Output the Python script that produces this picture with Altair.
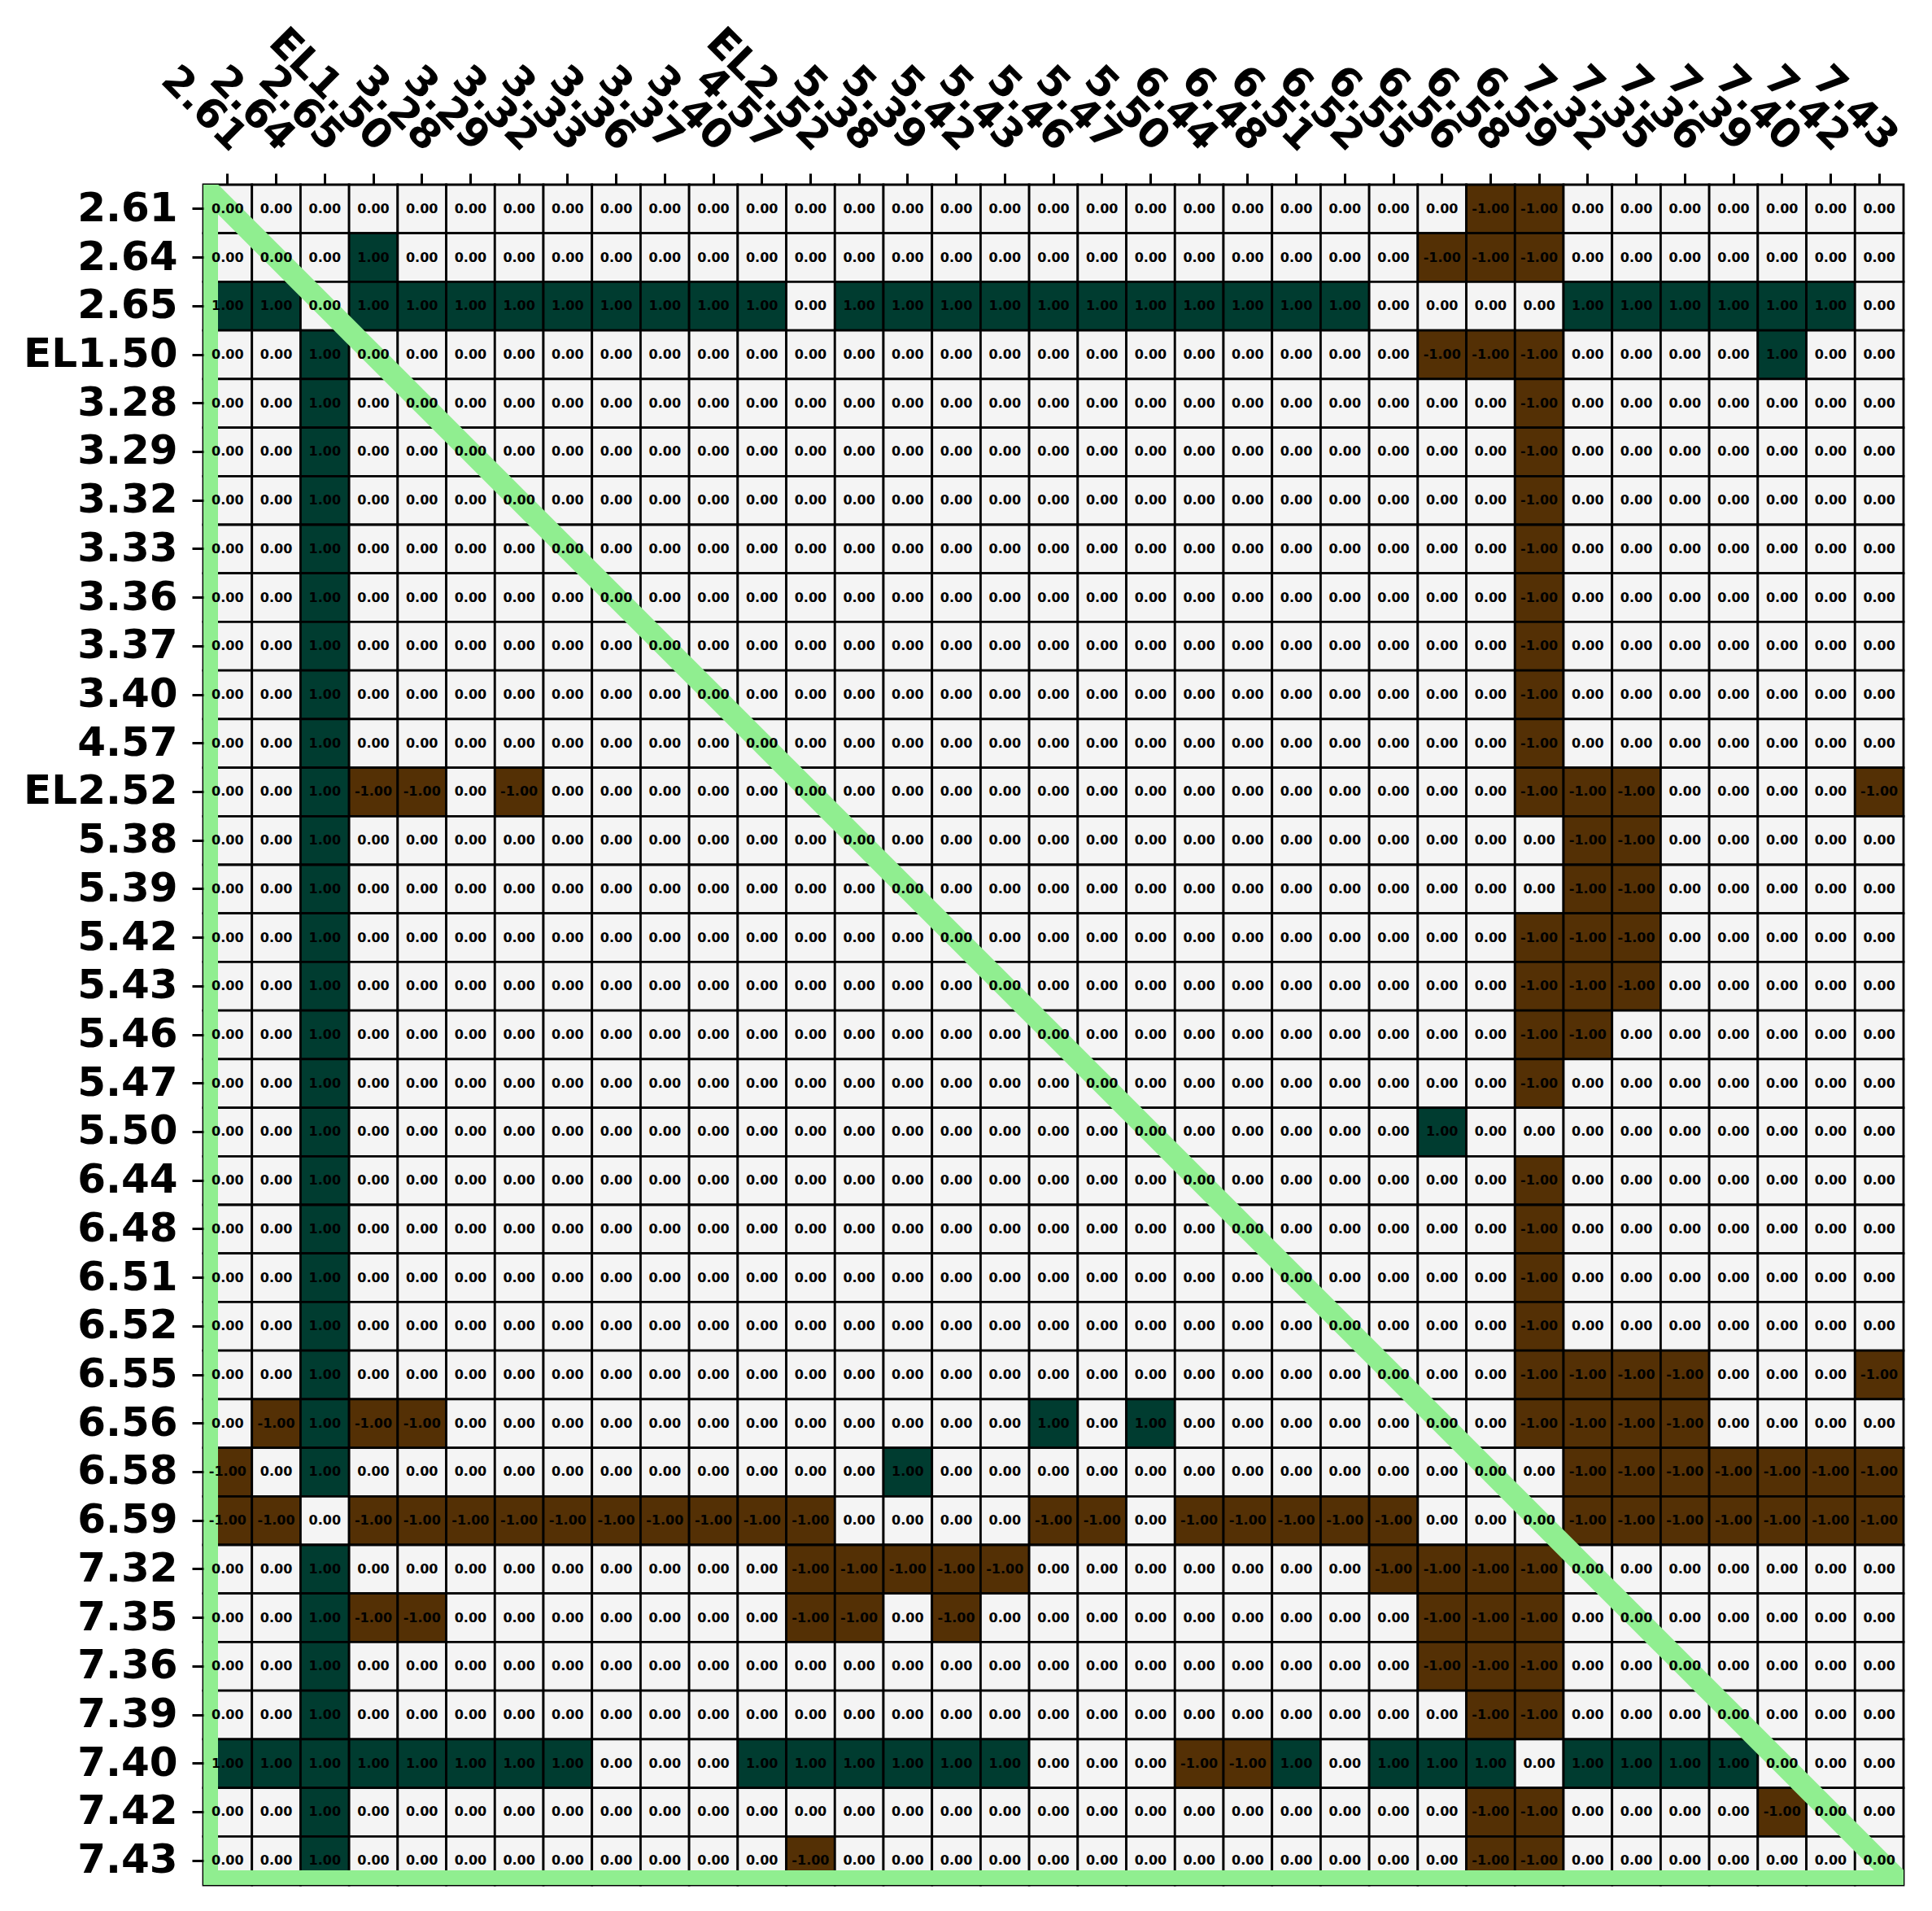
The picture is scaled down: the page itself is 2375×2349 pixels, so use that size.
import altair as alt
import pandas as pd

labels = ["2.61", "2.64", "2.65", "EL1.50", "3.28", "3.29", "3.32", "3.33", "3.36",
          "3.37", "3.40", "4.57", "EL2.52", "5.38", "5.39", "5.42", "5.43", "5.46",
          "5.47", "5.50", "6.44", "6.48", "6.51", "6.52", "6.55", "6.56", "6.58",
          "6.59", "7.32", "7.35", "7.36", "7.39", "7.40", "7.42", "7.43"]

# one list per row (row label order), 35 values each
values = [
    [0, 0, 0, 0, 0,  0, 0, 0, 0, 0,  0, 0, 0, 0, 0,  0, 0, 0, 0, 0,  0, 0, 0, 0, 0,  0, -1, -1, 0, 0,  0, 0, 0, 0, 0],  # 2.61
    [0, 0, 0, 1, 0,  0, 0, 0, 0, 0,  0, 0, 0, 0, 0,  0, 0, 0, 0, 0,  0, 0, 0, 0, 0,  -1, -1, -1, 0, 0,  0, 0, 0, 0, 0],  # 2.64
    [1, 1, 0, 1, 1,  1, 1, 1, 1, 1,  1, 1, 0, 1, 1,  1, 1, 1, 1, 1,  1, 1, 1, 1, 0,  0, 0, 0, 1, 1,  1, 1, 1, 1, 0],  # 2.65
    [0, 0, 1, 0, 0,  0, 0, 0, 0, 0,  0, 0, 0, 0, 0,  0, 0, 0, 0, 0,  0, 0, 0, 0, 0,  -1, -1, -1, 0, 0,  0, 0, 1, 0, 0],  # EL1.50
    [0, 0, 1, 0, 0,  0, 0, 0, 0, 0,  0, 0, 0, 0, 0,  0, 0, 0, 0, 0,  0, 0, 0, 0, 0,  0, 0, -1, 0, 0,  0, 0, 0, 0, 0],  # 3.28
    [0, 0, 1, 0, 0,  0, 0, 0, 0, 0,  0, 0, 0, 0, 0,  0, 0, 0, 0, 0,  0, 0, 0, 0, 0,  0, 0, -1, 0, 0,  0, 0, 0, 0, 0],  # 3.29
    [0, 0, 1, 0, 0,  0, 0, 0, 0, 0,  0, 0, 0, 0, 0,  0, 0, 0, 0, 0,  0, 0, 0, 0, 0,  0, 0, -1, 0, 0,  0, 0, 0, 0, 0],  # 3.32
    [0, 0, 1, 0, 0,  0, 0, 0, 0, 0,  0, 0, 0, 0, 0,  0, 0, 0, 0, 0,  0, 0, 0, 0, 0,  0, 0, -1, 0, 0,  0, 0, 0, 0, 0],  # 3.33
    [0, 0, 1, 0, 0,  0, 0, 0, 0, 0,  0, 0, 0, 0, 0,  0, 0, 0, 0, 0,  0, 0, 0, 0, 0,  0, 0, -1, 0, 0,  0, 0, 0, 0, 0],  # 3.36
    [0, 0, 1, 0, 0,  0, 0, 0, 0, 0,  0, 0, 0, 0, 0,  0, 0, 0, 0, 0,  0, 0, 0, 0, 0,  0, 0, -1, 0, 0,  0, 0, 0, 0, 0],  # 3.37
    [0, 0, 1, 0, 0,  0, 0, 0, 0, 0,  0, 0, 0, 0, 0,  0, 0, 0, 0, 0,  0, 0, 0, 0, 0,  0, 0, -1, 0, 0,  0, 0, 0, 0, 0],  # 3.40
    [0, 0, 1, 0, 0,  0, 0, 0, 0, 0,  0, 0, 0, 0, 0,  0, 0, 0, 0, 0,  0, 0, 0, 0, 0,  0, 0, -1, 0, 0,  0, 0, 0, 0, 0],  # 4.57
    [0, 0, 1, -1, -1,  0, -1, 0, 0, 0,  0, 0, 0, 0, 0,  0, 0, 0, 0, 0,  0, 0, 0, 0, 0,  0, 0, -1, -1, -1,  0, 0, 0, 0, -1],  # EL2.52
    [0, 0, 1, 0, 0,  0, 0, 0, 0, 0,  0, 0, 0, 0, 0,  0, 0, 0, 0, 0,  0, 0, 0, 0, 0,  0, 0, 0, -1, -1,  0, 0, 0, 0, 0],  # 5.38
    [0, 0, 1, 0, 0,  0, 0, 0, 0, 0,  0, 0, 0, 0, 0,  0, 0, 0, 0, 0,  0, 0, 0, 0, 0,  0, 0, 0, -1, -1,  0, 0, 0, 0, 0],  # 5.39
    [0, 0, 1, 0, 0,  0, 0, 0, 0, 0,  0, 0, 0, 0, 0,  0, 0, 0, 0, 0,  0, 0, 0, 0, 0,  0, 0, -1, -1, -1,  0, 0, 0, 0, 0],  # 5.42
    [0, 0, 1, 0, 0,  0, 0, 0, 0, 0,  0, 0, 0, 0, 0,  0, 0, 0, 0, 0,  0, 0, 0, 0, 0,  0, 0, -1, -1, -1,  0, 0, 0, 0, 0],  # 5.43
    [0, 0, 1, 0, 0,  0, 0, 0, 0, 0,  0, 0, 0, 0, 0,  0, 0, 0, 0, 0,  0, 0, 0, 0, 0,  0, 0, -1, -1, 0,  0, 0, 0, 0, 0],  # 5.46
    [0, 0, 1, 0, 0,  0, 0, 0, 0, 0,  0, 0, 0, 0, 0,  0, 0, 0, 0, 0,  0, 0, 0, 0, 0,  0, 0, -1, 0, 0,  0, 0, 0, 0, 0],  # 5.47
    [0, 0, 1, 0, 0,  0, 0, 0, 0, 0,  0, 0, 0, 0, 0,  0, 0, 0, 0, 0,  0, 0, 0, 0, 0,  1, 0, 0, 0, 0,  0, 0, 0, 0, 0],  # 5.50
    [0, 0, 1, 0, 0,  0, 0, 0, 0, 0,  0, 0, 0, 0, 0,  0, 0, 0, 0, 0,  0, 0, 0, 0, 0,  0, 0, -1, 0, 0,  0, 0, 0, 0, 0],  # 6.44
    [0, 0, 1, 0, 0,  0, 0, 0, 0, 0,  0, 0, 0, 0, 0,  0, 0, 0, 0, 0,  0, 0, 0, 0, 0,  0, 0, -1, 0, 0,  0, 0, 0, 0, 0],  # 6.48
    [0, 0, 1, 0, 0,  0, 0, 0, 0, 0,  0, 0, 0, 0, 0,  0, 0, 0, 0, 0,  0, 0, 0, 0, 0,  0, 0, -1, 0, 0,  0, 0, 0, 0, 0],  # 6.51
    [0, 0, 1, 0, 0,  0, 0, 0, 0, 0,  0, 0, 0, 0, 0,  0, 0, 0, 0, 0,  0, 0, 0, 0, 0,  0, 0, -1, 0, 0,  0, 0, 0, 0, 0],  # 6.52
    [0, 0, 1, 0, 0,  0, 0, 0, 0, 0,  0, 0, 0, 0, 0,  0, 0, 0, 0, 0,  0, 0, 0, 0, 0,  0, 0, -1, -1, -1,  -1, 0, 0, 0, -1],  # 6.55
    [0, -1, 1, -1, -1,  0, 0, 0, 0, 0,  0, 0, 0, 0, 0,  0, 0, 1, 0, 1,  0, 0, 0, 0, 0,  0, 0, -1, -1, -1,  -1, 0, 0, 0, 0],  # 6.56
    [-1, 0, 1, 0, 0,  0, 0, 0, 0, 0,  0, 0, 0, 0, 1,  0, 0, 0, 0, 0,  0, 0, 0, 0, 0,  0, 0, 0, -1, -1,  -1, -1, -1, -1, -1],  # 6.58
    [-1, -1, 0, -1, -1,  -1, -1, -1, -1, -1,  -1, -1, -1, 0, 0,  0, 0, -1, -1, 0,  -1, -1, -1, -1, -1,  0, 0, 0, -1, -1,  -1, -1, -1, -1, -1],  # 6.59
    [0, 0, 1, 0, 0,  0, 0, 0, 0, 0,  0, 0, -1, -1, -1,  -1, -1, 0, 0, 0,  0, 0, 0, 0, -1,  -1, -1, -1, 0, 0,  0, 0, 0, 0, 0],  # 7.32
    [0, 0, 1, -1, -1,  0, 0, 0, 0, 0,  0, 0, -1, -1, 0,  -1, 0, 0, 0, 0,  0, 0, 0, 0, 0,  -1, -1, -1, 0, 0,  0, 0, 0, 0, 0],  # 7.35
    [0, 0, 1, 0, 0,  0, 0, 0, 0, 0,  0, 0, 0, 0, 0,  0, 0, 0, 0, 0,  0, 0, 0, 0, 0,  -1, -1, -1, 0, 0,  0, 0, 0, 0, 0],  # 7.36
    [0, 0, 1, 0, 0,  0, 0, 0, 0, 0,  0, 0, 0, 0, 0,  0, 0, 0, 0, 0,  0, 0, 0, 0, 0,  0, -1, -1, 0, 0,  0, 0, 0, 0, 0],  # 7.39
    [1, 1, 1, 1, 1,  1, 1, 1, 0, 0,  0, 1, 1, 1, 1,  1, 1, 0, 0, 0,  -1, -1, 1, 0, 1,  1, 1, 0, 1, 1,  1, 1, 0, 0, 0],  # 7.40
    [0, 0, 1, 0, 0,  0, 0, 0, 0, 0,  0, 0, 0, 0, 0,  0, 0, 0, 0, 0,  0, 0, 0, 0, 0,  0, -1, -1, 0, 0,  0, 0, -1, 0, 0],  # 7.42
    [0, 0, 1, 0, 0,  0, 0, 0, 0, 0,  0, 0, -1, 0, 0,  0, 0, 0, 0, 0,  0, 0, 0, 0, 0,  0, -1, -1, 0, 0,  0, 0, 0, 0, 0],  # 7.43
]

color_domain = [-1, 0, 1]
color_range = ["#543005", "#f4f4f4", "#003c30"]

records = []
for i, r in enumerate(labels):
    for j, c in enumerate(labels):
        v = values[i][j]
        records.append({"row": r, "col": c, "value": v, "label": f"{v:.2f}"})
df = pd.DataFrame(records)

W = 2090
GREEN = "#90ee90"

x_enc = alt.X(
    "col:N", sort=labels, title=None,
    scale=alt.Scale(paddingInner=0, paddingOuter=0),
    axis=alt.Axis(orient="top", labelAngle=45, labelAlign="right", labelBaseline="middle",
                  labelFontSize=50, labelFont="DejaVu Sans", labelFontWeight="bold",
                  labelColor="black", labelLimit=0, labelOverlap=False, labelPadding=36,
                  labelOffset=14, tickSize=14, tickWidth=3, tickColor="black",
                  domain=False, grid=False),
)
y_enc = alt.Y(
    "row:N", sort=labels, title=None,
    scale=alt.Scale(paddingInner=0, paddingOuter=0),
    axis=alt.Axis(orient="left", labelFontSize=50, labelFont="DejaVu Sans",
                  labelFontWeight="bold", labelColor="black", labelLimit=0,
                  labelOverlap=False, labelPadding=18, tickSize=14, tickWidth=3,
                  tickColor="black", domain=False, grid=False),
)

base = alt.Chart(df).encode(x=x_enc, y=y_enc)

rects = base.mark_rect(stroke="black", strokeWidth=2.8).encode(
    color=alt.Color("value:Q", scale=alt.Scale(domain=color_domain, range=color_range),
                    legend=None)
)

texts = base.mark_text(fontSize=16, fontWeight="bold", font="DejaVu Sans",
                       color="black").encode(text="label:N")

dummy = pd.DataFrame({"d": [0]})
diag = alt.Chart(dummy).mark_rule(color=GREEN, strokeWidth=26, clip=True).encode(
    x=alt.value(0), y=alt.value(0), x2=alt.value(W), y2=alt.value(W))
left_edge = alt.Chart(dummy).mark_rule(color=GREEN, strokeWidth=36, clip=True).encode(
    x=alt.value(0), y=alt.value(0), y2=alt.value(W))
bottom_edge = alt.Chart(dummy).mark_rule(color=GREEN, strokeWidth=36, clip=True).encode(
    x=alt.value(0), x2=alt.value(W), y=alt.value(W))

chart = alt.layer(rects, diag, left_edge, bottom_edge, texts).properties(
    width=W, height=W,
    autosize=alt.AutoSizeParams(type="none"),
    padding={"left": 250, "top": 227, "right": 35, "bottom": 32},
    background="white",
).configure_view(stroke=None)

chart.save("out.html", embed_options={"renderer": "svg", "actions": False})
